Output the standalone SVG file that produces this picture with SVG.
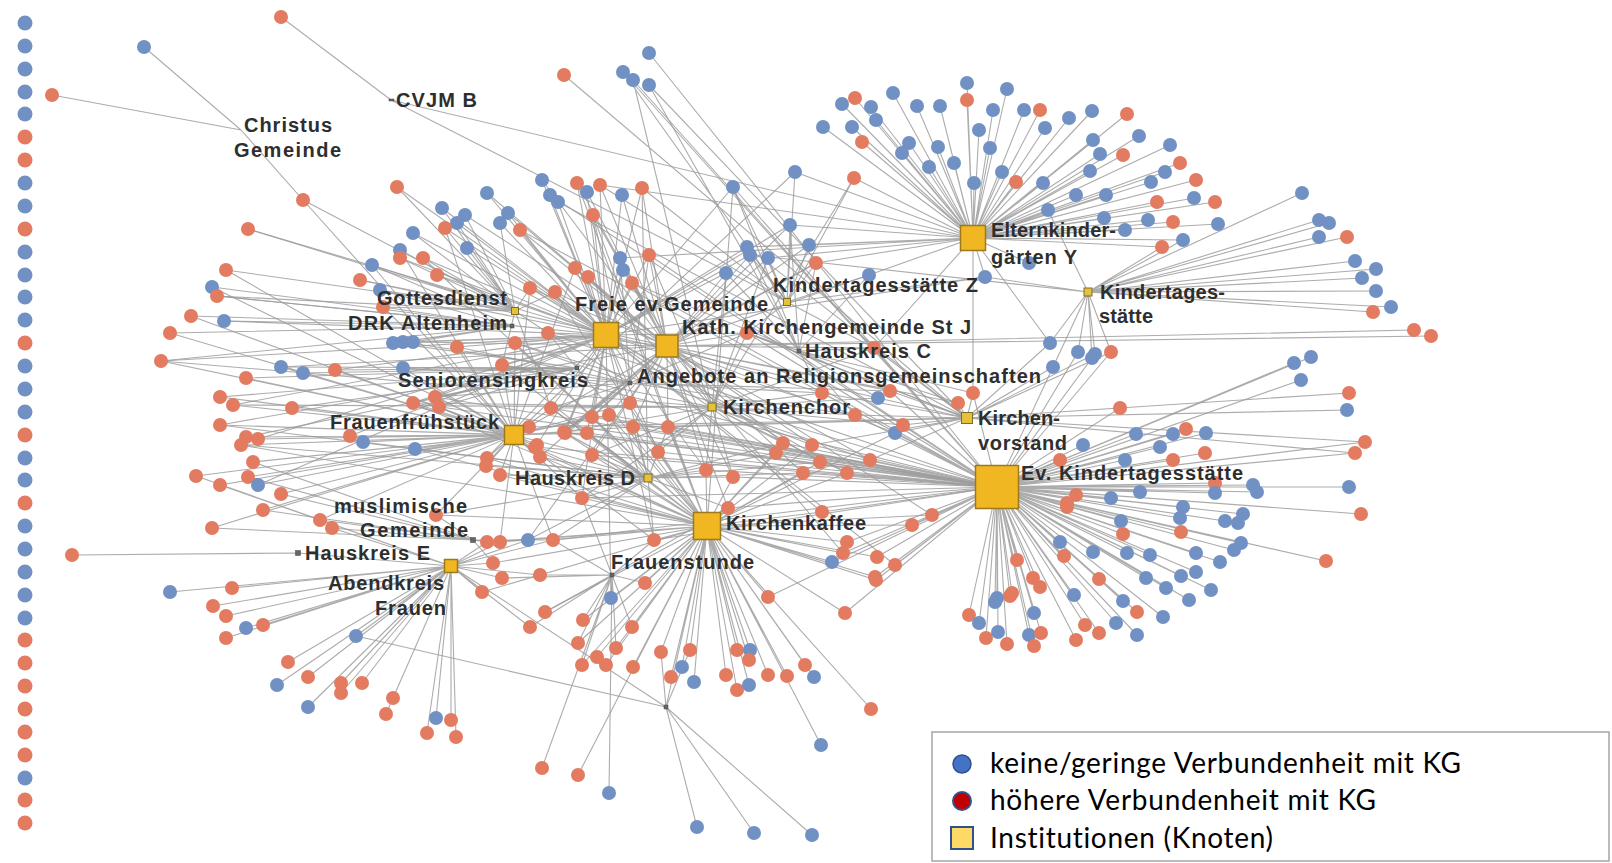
<svg xmlns="http://www.w3.org/2000/svg" width="1612" height="863" viewBox="0 0 1612 863">
<style>
.e{fill:none;stroke:#9a9a9a;stroke-width:1.1;stroke-opacity:.82}
.b{fill:#7191c4}
.r{fill:#e27b5f}
.h{fill:#f1b722;stroke:#9c7a1c;stroke-width:1.5}
.s{fill:#e6c23a;stroke:#7d6d2a;stroke-width:1}
.t{fill:#666;stroke:#444;stroke-width:.5}
.l{font-family:"Liberation Sans",Arial,sans-serif;font-weight:bold;font-size:20px;fill:#2e2e2e}
.g{font-family:Lato,"Open Sans",sans-serif;font-size:28px;fill:#000;font-variant-ligatures:none}
</style>
<rect width="1612" height="863" fill="#fff"/>
<g id="connectors">
<path class="e" d="M391 100L281 17M391 100L787 302M391 100L973 238M241 130L144 47M241 130L52 95M241 130L303 200"/>
<path class="e" d="M515 311L303 200M515 311L397 187M515 311L442 208M515 311L465 215M515 311L457 223M515 311L445 228M515 311L500 223M515 311L413 233M515 311L467 248M515 311L400 250M515 311L400 258M515 311L423 258M515 311L372 265M515 311L437 275M515 311L380 290M515 311L383 307M515 311L248 229M515 311L226 270M515 311L360 280M515 311L217 296M515 311L548 333M515 311L530 288M515 311L555 292M515 311L502 365M515 311L551 408"/>
<path class="e" d="M514 435L303 200M514 435L795 172M514 435L445 228M514 435L575 268M514 435L530 288M514 435L400 250M514 435L372 265M514 435L383 307M514 435L226 270M514 435L212 287M514 435L191 316M514 435L170 333M514 435L161 361M514 435L281 367M514 435L303 373M514 435L335 370M514 435L246 378M514 435L457 347M514 435L515 343M514 435L403 368M514 435L502 365M514 435L220 397M514 435L233 405M514 435L292 408M514 435L413 403M514 435L435 397M514 435L439 407M514 435L220 425M514 435L246 437M514 435L258 439M514 435L241 445M514 435L350 436M514 435L363 442M514 435L415 449M514 435L253 462M514 435L196 476M514 435L248 477M514 435L258 485M514 435L220 485M514 435L281 494M514 435L487 458M514 435L486 466M514 435L500 475M514 435L529 427M514 435L263 510M514 435L320 520M514 435L212 528M514 435L436 515M514 435L500 542M514 435L537 445M514 435L540 457M514 435L565 433M514 435L587 433M514 435L592 455M514 435L582 498M514 435L553 540M514 435L551 408M514 435L630 403M514 435L592 417M514 435L609 415M514 435L564 432M514 435L633 427M514 435L535 447M514 435L654 540M514 435L816 263"/>
<path class="e" d="M606 335L733 187M606 335L542 180M606 335L550 195M606 335L558 202M606 335L577 183M606 335L587 192M606 335L600 185M606 335L622 195M606 335L642 188M606 335L593 215M606 335L620 258M606 335L623 270M606 335L575 268M606 335L588 277M606 335L632 283M606 335L649 255M606 335L790 225M606 335L747 247M606 335L750 255M606 335L726 273M606 335L985 277M606 335L397 187M606 335L487 193M606 335L442 208M606 335L457 223M606 335L445 228M606 335L508 213M606 335L500 223M606 335L520 230M606 335L413 233M606 335L467 248M606 335L400 258M606 335L423 258M606 335L437 275M606 335L530 288M606 335L555 292M606 335L380 290M606 335L248 229M606 335L217 296M606 335L224 321M606 335L161 361M606 335L335 370M606 335L393 343M606 335L403 342M606 335L457 347M606 335L515 343M606 335L548 333M606 335L502 365M606 335L233 405M606 335L413 403M606 335L435 397M606 335L258 439M606 335L350 436M606 335L258 485M606 335L487 458M606 335L537 445M606 335L565 433M606 335L587 433M606 335L582 498M606 335L747 333M606 335L878 398M606 335L855 415M606 335L820 462M606 335L847 473M606 335L551 408M606 335L630 403M606 335L592 417M606 335L564 432M606 335L776 453M606 335L706 470M606 335L822 512M606 335L654 540M606 335L895 565M606 335L611 598M606 335L658 452"/>
<path class="e" d="M667 346L542 180M667 346L577 183M667 346L587 192M667 346L600 185M667 346L622 195M667 346L642 188M667 346L593 215M667 346L620 258M667 346L623 270M667 346L575 268M667 346L588 277M667 346L632 283M667 346L649 255M667 346L790 225M667 346L809 245M667 346L750 255M667 346L768 258M667 346L726 273M667 346L816 263M667 346L869 275M667 346L487 193M667 346L465 215M667 346L508 213M667 346L520 230M667 346L530 288M667 346L555 292M667 346L360 280M667 346L281 367M667 346L413 342M667 346L548 333M667 346L220 425M667 346L540 457M667 346L565 433M667 346L592 455M667 346L528 540M667 346L747 333M667 346L874 348M667 346L822 393M667 346L890 391M667 346L958 403M667 346L895 433M667 346L812 445M667 346L870 460M667 346L803 473M667 346L592 417M667 346L609 415M667 346L564 432M667 346L633 427M667 346L668 427M667 346L783 443M667 346L706 470M667 346L733 477M667 346L728 508M667 346L932 515M667 346L843 553M667 346L1414 330M667 346L1431 336"/>
<path class="e" d="M707 526L733 187M707 526L577 183M707 526L593 215M707 526L423 258M707 526L555 292M707 526L515 343M707 526L548 333M707 526L502 365M707 526L413 403M707 526L439 407M707 526L241 445M707 526L415 449M707 526L487 458M707 526L500 475M707 526L436 515M707 526L487 542M707 526L500 542M707 526L493 563M707 526L565 433M707 526L587 433M707 526L592 455M707 526L582 498M707 526L553 540M707 526L540 575M707 526L895 433M707 526L812 445M707 526L820 462M707 526L847 473M707 526L803 473M707 526L551 408M707 526L630 403M707 526L609 415M707 526L633 427M707 526L668 427M707 526L535 447M707 526L783 443M707 526L776 453M707 526L706 470M707 526L733 477M707 526L728 508M707 526L822 512M707 526L912 525M707 526L932 515M707 526L654 540M707 526L847 542M707 526L843 553M707 526L832 562M707 526L877 557M707 526L875 577M707 526L482 592M707 526L645 583M707 526L611 598M707 526L545 612M707 526L583 620M707 526L632 627M707 526L578 643M707 526L616 648M707 526L597 657M707 526L582 665M707 526L606 665M707 526L633 667M707 526L661 652M707 526L690 650M707 526L682 667M707 526L671 677M707 526L694 682M707 526L737 650M707 526L750 650M707 526L749 660M707 526L726 675M707 526L737 690M707 526L749 685M707 526L768 675M707 526L787 676M707 526L805 665M707 526L814 677M707 526L768 597M707 526L845 613M707 526L876 580M707 526L871 709M707 526L821 745M707 526L578 775M707 526L658 452M707 526L666 707"/>
<path class="e" d="M997 487L623 72M997 487L633 80M997 487L649 53M997 487L733 187M997 487L550 195M997 487L520 230M997 487L632 283M997 487L649 255M997 487L747 333M997 487L874 348M997 487L822 393M997 487L890 391M997 487L973 393M997 487L855 415M997 487L895 433M997 487L903 425M997 487L812 445M997 487L820 462M997 487L870 460M997 487L847 473M997 487L803 473M997 487L633 427M997 487L668 427M997 487L783 443M997 487L776 453M997 487L733 477M997 487L728 508M997 487L822 512M997 487L912 525M997 487L932 515M997 487L847 542M997 487L843 553M997 487L832 562M997 487L877 557M997 487L895 565M997 487L875 577M997 487L768 597M997 487L845 613M997 487L876 580M997 487L1053 367M997 487L1078 352M997 487L1092 358M997 487L1095 354M997 487L1111 352M997 487L1120 408M997 487L1294 363M997 487L1311 357M997 487L1301 380M997 487L658 452"/>
<path class="e" d="M997 487L1136 434M997 487L1173 434M997 487L1186 429M997 487L1206 433M997 487L1083 445M997 487L1160 447M997 487L1365 442M997 487L1355 453M997 487L1060 460M997 487L1125 460M997 487L1173 460M997 487L1205 453M997 487L1215 483M997 487L1215 493M997 487L1253 485M997 487L1257 492M997 487L1349 487M997 487L1361 514M997 487L1076 495M997 487L1067 507M997 487L1111 498M997 487L1140 492M997 487L1183 507M997 487L1180 518M997 487L1243 514M997 487L1225 521M997 487L1238 523M997 487L1121 521M997 487L1123 534M997 487L1181 532M997 487L1060 542M997 487L1093 552M997 487L1127 553M997 487L1150 555M997 487L1196 553M997 487L1241 543M997 487L1234 550M997 487L1220 562M997 487L1064 556M997 487L1196 572M997 487L1326 561M997 487L1099 579M997 487L1146 578M997 487L1181 576M997 487L1166 588M997 487L1211 590M997 487L1074 595M997 487L1123 601M997 487L1189 600M997 487L1137 612M997 487L1163 617M997 487L1116 623M997 487L1085 625M997 487L1099 633M997 487L1137 635M997 487L1076 640M997 487L969 615M997 487L979 623M997 487L995 602M997 487L1010 596M997 487L986 638M997 487L998 632M997 487L1007 644M997 487L1034 613M997 487L1029 635M997 487L1041 633M997 487L1034 646M997 487L1033 578M997 487L1040 587M997 487L1017 560M997 487L997 598M997 487L1012 593M997 487L1067 503"/>
<path class="e" d="M973 238L967 83M973 238L1007 89M973 238L893 93M973 238L855 98M973 238L842 104M973 238L871 107M973 238L917 106M973 238L940 106M973 238L967 100M973 238L993 110M973 238L1024 110M973 238L1040 110M973 238L1069 118M973 238L823 127M973 238L852 127M973 238L876 120M973 238L862 142M973 238L909 143M973 238L902 153M973 238L938 147M973 238L979 130M973 238L990 148M973 238L1045 128M973 238L929 167M973 238L954 163M973 238L1002 172M973 238L1016 182M973 238L1043 183M973 238L974 183M973 238L1048 210M973 238L1092 111M973 238L1127 114M973 238L1093 140M973 238L1139 136M973 238L1100 154M973 238L1123 155M973 238L1170 145M973 238L1180 163M973 238L1090 171M973 238L1165 172M973 238L1151 182M973 238L1196 180M973 238L1076 195M973 238L1106 195M973 238L1157 202M973 238L1194 198M973 238L1215 202M973 238L1104 218M973 238L1148 220M973 238L1173 222M973 238L1218 224M973 238L1125 230M973 238L1162 247M973 238L1183 240M973 238L1029 263M973 238L795 172M973 238L854 178M973 238L790 225M973 238L809 245M973 238L747 247M973 238L768 258M973 238L816 263M973 238L869 275M973 238L985 277M973 238L600 185M973 238L620 258M973 238L874 348M973 238L973 393M973 238L1050 343"/>
<path class="e" d="M1088 292L1302 193M1088 292L1319 220M1088 292L1329 223M1088 292L1319 237M1088 292L1347 237M1088 292L1355 261M1088 292L1376 269M1088 292L1362 278M1088 292L1376 291M1088 292L1391 307M1088 292L1373 312M1088 292L1078 352M1088 292L1092 358M1088 292L1095 354M1088 292L1111 352M1088 292L750 255M1088 292L985 277M1088 292L1053 367M1088 292L1050 343M1088 292L1162 247M1088 292L1183 240M1088 292L1048 210"/>
<path class="e" d="M967 418L564 75M967 418L649 85M967 418L558 202M967 418L747 247M967 418L747 333M967 418L878 398M967 418L890 391M967 418L973 393M967 418L958 403M967 418L529 427M967 418L1053 367M967 418L1050 343M967 418L1349 393M967 418L1347 410M967 418L1120 408M712 407L633 80M712 407L854 178M712 407L588 277M712 407L822 393M712 407L878 398M712 407L855 415M712 407L903 425M648 478L642 188M648 478L363 442M648 478L486 466M648 478L528 540M648 478L540 457M787 302L623 72M799 351L649 85"/>
<path class="e" d="M577 368L303 373M577 368L246 378M577 368L403 368M577 368L220 397M577 368L292 408M577 368L246 437M512 326L212 287M512 326L191 316M512 326L224 321M512 326L170 333M512 326L393 343M512 326L403 342M512 326L413 342M473 540L253 462M473 540L248 477M473 540L281 494M473 540L263 510M473 540L320 520M473 540L332 528M473 540L212 528M473 540L436 515M473 540L487 542"/>
<path class="e" d="M451 566L196 476M451 566L220 485M451 566L332 528M451 566L487 542M451 566L500 542M451 566L528 540M451 566L493 563M451 566L502 578M451 566L553 540M451 566L540 575M451 566L530 627M451 566L170 592M451 566L232 588M451 566L213 606M451 566L226 616M451 566L246 628M451 566L263 625M451 566L226 638M451 566L356 636M451 566L288 662M451 566L308 677M451 566L277 685M451 566L341 683M451 566L341 693M451 566L362 683M451 566L308 707M451 566L393 698M451 566L386 714M451 566L436 718M451 566L451 720M451 566L427 733M451 566L456 737M451 566L482 592M451 566L298 553M451 566L666 707M298 553L72 555"/>
<path class="e" d="M612 575L502 578M612 575L540 575M612 575L645 583M612 575L611 598M612 575L545 612M612 575L583 620M612 575L530 627M612 575L632 627M612 575L578 643M612 575L616 648M612 575L582 665M612 575L542 768M612 575L609 793M666 707L697 827M666 707L754 833M666 707L812 835M666 707L661 652M666 707L690 650M666 707L356 636"/>
<path class="e" d="M648 478L551 408M648 478L630 403M648 478L592 417M648 478L609 415M648 478L564 432M648 478L633 427M648 478L668 427M648 478L535 447M648 478L565 433M648 478L587 433M648 478L592 455M648 478L582 498M648 478L553 540M648 478L654 540M648 478L706 470M648 478L733 477M648 478L728 508M648 478L783 443M648 478L776 453M648 478L803 473M648 478L820 462M648 478L658 452M648 478L487 458M648 478L500 475M648 478L436 515M648 478L415 449M648 478L241 445M648 478L220 425"/>
<path class="e" d="M712 407L551 408M712 407L564 432M712 407L592 455M712 407L582 498M712 407L658 452M712 407L706 470M712 407L733 477M712 407L783 443M712 407L812 445M712 407L847 473M712 407L870 460M712 407L747 333M712 407L874 348M712 407L632 283M712 407L649 255M712 407L726 273M712 407L768 258M712 407L502 365M712 407L413 403M712 407L233 405M712 407L161 361"/>
<path class="e" d="M630 383L548 333M630 383L515 343M630 383L502 365M630 383L457 347M630 383L403 368M630 383L435 397M630 383L551 408M630 383L592 417M630 383L564 432M630 383L747 333M630 383L822 393M630 383L855 415M630 383L890 391M630 383L649 255M630 383L620 258M630 383L593 215"/>
<path class="e" d="M799 351L747 333M799 351L874 348M799 351L822 393M799 351L878 398M799 351L890 391M799 351L958 403M799 351L855 415M799 351L973 393M799 351L632 283M799 351L726 273M799 351L790 225M799 351L816 263M799 351L869 275M799 351L747 247M799 351L733 187"/>
<path class="e" d="M787 302L733 187M787 302L795 172M787 302L854 178M787 302L747 247M787 302L750 255M787 302L768 258M787 302L790 225M787 302L809 245M787 302L816 263M787 302L869 275M787 302L985 277M787 302L747 333M787 302L874 348M787 302L642 188M787 302L600 185"/>
<path class="e" d="M997 487L515 343M997 487L548 333M997 487L551 408M997 487L564 432M997 487L592 417M997 487L609 415M997 487L565 433M997 487L587 433M997 487L592 455M997 487L535 447M997 487L582 498M997 487L553 540M997 487L654 540M997 487L706 470M997 487L502 365M997 487L413 403M997 487L435 397"/>
<path class="e" d="M967 418L822 393M967 418L855 415M967 418L903 425M967 418L895 433M967 418L812 445M967 418L870 460M967 418L633 427M967 418L668 427M967 418L747 333M967 418L874 348M967 418L1111 352M967 418L1095 354M967 418L1365 442M967 418L1355 453"/>
<path class="e" d="M473 540L500 542M473 540L528 540M473 540L553 540M473 540L493 563M612 575L654 540M612 575L582 498M612 575L553 540M612 575L728 508M577 368L413 403M577 368L435 397M577 368L439 407M577 368L335 370M577 368L281 367M577 368L403 342M577 368L393 343M512 326L383 307M512 326L380 290M512 326L372 265M512 326L161 361M512 326L217 296"/>
</g>
<g id="persons">
<g id="isolates">
<circle class="b" cx="25" cy="23" r="7.5"/><circle class="b" cx="25" cy="46" r="7.5"/><circle class="b" cx="25" cy="69" r="7.5"/><circle class="b" cx="25" cy="92" r="7.5"/><circle class="b" cx="25" cy="114" r="7.5"/><circle class="r" cx="25" cy="137" r="7.5"/><circle class="r" cx="25" cy="160" r="7.5"/><circle class="b" cx="25" cy="183" r="7.5"/><circle class="b" cx="25" cy="206" r="7.5"/><circle class="r" cx="25" cy="229" r="7.5"/><circle class="b" cx="25" cy="252" r="7.5"/><circle class="b" cx="25" cy="275" r="7.5"/><circle class="b" cx="25" cy="297" r="7.5"/><circle class="b" cx="25" cy="320" r="7.5"/><circle class="r" cx="25" cy="343" r="7.5"/><circle class="b" cx="25" cy="366" r="7.5"/><circle class="b" cx="25" cy="389" r="7.5"/><circle class="b" cx="25" cy="412" r="7.5"/><circle class="r" cx="25" cy="435" r="7.5"/><circle class="b" cx="25" cy="458" r="7.5"/><circle class="b" cx="25" cy="480" r="7.5"/><circle class="r" cx="25" cy="503" r="7.5"/><circle class="b" cx="25" cy="526" r="7.5"/><circle class="b" cx="25" cy="549" r="7.5"/><circle class="b" cx="25" cy="572" r="7.5"/><circle class="b" cx="25" cy="595" r="7.5"/><circle class="b" cx="25" cy="618" r="7.5"/><circle class="r" cx="25" cy="640" r="7.5"/><circle class="r" cx="25" cy="663" r="7.5"/><circle class="r" cx="25" cy="686" r="7.5"/><circle class="r" cx="25" cy="709" r="7.5"/><circle class="r" cx="25" cy="732" r="7.5"/><circle class="r" cx="25" cy="755" r="7.5"/><circle class="b" cx="25" cy="778" r="7.5"/><circle class="r" cx="25" cy="800" r="7.5"/><circle class="r" cx="25" cy="823" r="7.5"/>
</g>
<g id="cluster-top">
<circle class="r" cx="281" cy="17" r="7"/><circle class="b" cx="144" cy="47" r="7"/><circle class="r" cx="52" cy="95" r="7"/><circle class="r" cx="303" cy="200" r="7"/>
<circle class="r" cx="564" cy="75" r="7"/><circle class="b" cx="623" cy="72" r="7"/><circle class="b" cx="633" cy="80" r="7"/><circle class="b" cx="649" cy="85" r="7"/><circle class="b" cx="649" cy="53" r="7"/><circle class="b" cx="733" cy="187" r="7"/><circle class="b" cx="795" cy="172" r="7"/><circle class="r" cx="854" cy="178" r="7"/>
<circle class="b" cx="542" cy="180" r="7"/><circle class="b" cx="550" cy="195" r="7"/><circle class="b" cx="558" cy="202" r="7"/><circle class="r" cx="577" cy="183" r="7"/><circle class="b" cx="587" cy="192" r="7"/><circle class="r" cx="600" cy="185" r="7"/><circle class="b" cx="622" cy="195" r="7"/><circle class="r" cx="642" cy="188" r="7"/><circle class="r" cx="593" cy="215" r="7"/><circle class="b" cx="620" cy="258" r="7"/><circle class="b" cx="623" cy="270" r="7"/><circle class="r" cx="575" cy="268" r="7"/><circle class="r" cx="588" cy="277" r="7"/><circle class="r" cx="632" cy="283" r="7"/><circle class="r" cx="649" cy="255" r="7"/><circle class="b" cx="790" cy="225" r="7"/><circle class="b" cx="809" cy="245" r="7"/><circle class="b" cx="747" cy="247" r="7"/><circle class="b" cx="750" cy="255" r="7"/><circle class="b" cx="768" cy="258" r="7"/><circle class="b" cx="726" cy="273" r="7"/><circle class="r" cx="816" cy="263" r="7"/><circle class="b" cx="869" cy="275" r="7"/><circle class="b" cx="985" cy="277" r="7"/>
</g>
<g id="cluster-left">
<circle class="r" cx="397" cy="187" r="7"/><circle class="b" cx="487" cy="193" r="7"/><circle class="b" cx="442" cy="208" r="7"/><circle class="b" cx="465" cy="215" r="7"/><circle class="b" cx="457" cy="223" r="7"/><circle class="r" cx="445" cy="228" r="7"/><circle class="b" cx="508" cy="213" r="7"/><circle class="b" cx="500" cy="223" r="7"/><circle class="r" cx="520" cy="230" r="7"/><circle class="b" cx="413" cy="233" r="7"/><circle class="b" cx="467" cy="248" r="7"/><circle class="b" cx="400" cy="250" r="7"/><circle class="r" cx="400" cy="258" r="7"/><circle class="r" cx="423" cy="258" r="7"/><circle class="b" cx="372" cy="265" r="7"/><circle class="r" cx="437" cy="275" r="7"/><circle class="r" cx="530" cy="288" r="7"/><circle class="r" cx="555" cy="292" r="7"/><circle class="b" cx="380" cy="290" r="7"/><circle class="r" cx="383" cy="307" r="7"/><circle class="r" cx="248" cy="229" r="7"/><circle class="r" cx="226" cy="270" r="7"/><circle class="b" cx="212" cy="287" r="7"/><circle class="r" cx="360" cy="280" r="7"/>
<circle class="r" cx="217" cy="296" r="7"/><circle class="r" cx="191" cy="316" r="7"/><circle class="b" cx="224" cy="321" r="7"/><circle class="r" cx="170" cy="333" r="7"/><circle class="r" cx="161" cy="361" r="7"/><circle class="b" cx="281" cy="367" r="7"/><circle class="b" cx="303" cy="373" r="7"/><circle class="r" cx="335" cy="370" r="7"/><circle class="r" cx="246" cy="378" r="7"/><circle class="b" cx="393" cy="343" r="7"/><circle class="b" cx="403" cy="342" r="7"/><circle class="b" cx="413" cy="342" r="7"/><circle class="r" cx="457" cy="347" r="7"/><circle class="r" cx="515" cy="343" r="7"/><circle class="r" cx="548" cy="333" r="7"/><circle class="b" cx="403" cy="368" r="7"/><circle class="r" cx="502" cy="365" r="7"/><circle class="r" cx="220" cy="397" r="7"/><circle class="r" cx="233" cy="405" r="7"/><circle class="r" cx="292" cy="408" r="7"/><circle class="r" cx="413" cy="403" r="7"/><circle class="r" cx="435" cy="397" r="7"/><circle class="r" cx="439" cy="407" r="7"/><circle class="r" cx="220" cy="425" r="7"/><circle class="r" cx="246" cy="437" r="7"/><circle class="r" cx="258" cy="439" r="7"/><circle class="r" cx="241" cy="445" r="7"/><circle class="r" cx="350" cy="436" r="7"/><circle class="b" cx="363" cy="442" r="7"/><circle class="b" cx="415" cy="449" r="7"/><circle class="r" cx="253" cy="462" r="7"/><circle class="r" cx="196" cy="476" r="7"/><circle class="r" cx="248" cy="477" r="7"/><circle class="b" cx="258" cy="485" r="7"/><circle class="r" cx="220" cy="485" r="7"/><circle class="r" cx="281" cy="494" r="7"/><circle class="r" cx="487" cy="458" r="7"/><circle class="r" cx="486" cy="466" r="7"/><circle class="r" cx="500" cy="475" r="7"/><circle class="r" cx="529" cy="427" r="7"/><circle class="r" cx="263" cy="510" r="7"/><circle class="r" cx="320" cy="520" r="7"/><circle class="r" cx="332" cy="528" r="7"/><circle class="r" cx="212" cy="528" r="7"/><circle class="r" cx="436" cy="515" r="7"/><circle class="r" cx="72" cy="555" r="7"/><circle class="r" cx="487" cy="542" r="7"/><circle class="r" cx="500" cy="542" r="7"/><circle class="b" cx="528" cy="540" r="7"/><circle class="r" cx="493" cy="563" r="7"/><circle class="r" cx="502" cy="578" r="7"/><circle class="r" cx="537" cy="445" r="7"/><circle class="r" cx="540" cy="457" r="7"/><circle class="r" cx="565" cy="433" r="7"/><circle class="r" cx="587" cy="433" r="7"/><circle class="r" cx="592" cy="455" r="7"/><circle class="r" cx="582" cy="498" r="7"/><circle class="r" cx="553" cy="540" r="7"/><circle class="r" cx="540" cy="575" r="7"/>
</g>
<g id="cluster-abendkreis">
<circle class="b" cx="170" cy="592" r="7"/><circle class="r" cx="232" cy="588" r="7"/><circle class="r" cx="213" cy="606" r="7"/><circle class="r" cx="226" cy="616" r="7"/><circle class="b" cx="246" cy="628" r="7"/><circle class="r" cx="263" cy="625" r="7"/><circle class="r" cx="226" cy="638" r="7"/><circle class="b" cx="356" cy="636" r="7"/><circle class="r" cx="288" cy="662" r="7"/><circle class="r" cx="308" cy="677" r="7"/><circle class="b" cx="277" cy="685" r="7"/><circle class="r" cx="341" cy="683" r="7"/><circle class="r" cx="341" cy="693" r="7"/><circle class="r" cx="362" cy="683" r="7"/><circle class="b" cx="308" cy="707" r="7"/><circle class="r" cx="393" cy="698" r="7"/><circle class="r" cx="386" cy="714" r="7"/><circle class="b" cx="436" cy="718" r="7"/><circle class="r" cx="451" cy="720" r="7"/><circle class="r" cx="427" cy="733" r="7"/><circle class="r" cx="456" cy="737" r="7"/><circle class="r" cx="482" cy="592" r="7"/>
</g>
<g id="cluster-center">
<circle class="r" cx="747" cy="333" r="7"/><circle class="r" cx="874" cy="348" r="7"/><circle class="r" cx="822" cy="393" r="7"/><circle class="b" cx="878" cy="398" r="7"/><circle class="r" cx="890" cy="391" r="7"/><circle class="r" cx="973" cy="393" r="7"/><circle class="r" cx="958" cy="403" r="7"/><circle class="r" cx="855" cy="415" r="7"/><circle class="b" cx="895" cy="433" r="7"/><circle class="r" cx="903" cy="425" r="7"/><circle class="r" cx="812" cy="445" r="7"/><circle class="r" cx="820" cy="462" r="7"/><circle class="r" cx="870" cy="460" r="7"/><circle class="r" cx="847" cy="473" r="7"/><circle class="r" cx="803" cy="473" r="7"/><circle class="r" cx="551" cy="408" r="7"/><circle class="r" cx="630" cy="403" r="7"/><circle class="r" cx="592" cy="417" r="7"/><circle class="r" cx="609" cy="415" r="7"/><circle class="r" cx="564" cy="432" r="7"/><circle class="r" cx="633" cy="427" r="7"/><circle class="r" cx="668" cy="427" r="7"/><circle class="r" cx="535" cy="447" r="7"/><circle class="r" cx="783" cy="443" r="7"/><circle class="r" cx="776" cy="453" r="7"/><circle class="r" cx="706" cy="470" r="7"/><circle class="r" cx="733" cy="477" r="7"/><circle class="r" cx="728" cy="508" r="7"/><circle class="r" cx="822" cy="512" r="7"/><circle class="r" cx="912" cy="525" r="7"/><circle class="r" cx="932" cy="515" r="7"/><circle class="r" cx="654" cy="540" r="7"/><circle class="r" cx="847" cy="542" r="7"/><circle class="r" cx="843" cy="553" r="7"/><circle class="b" cx="832" cy="562" r="7"/><circle class="r" cx="877" cy="557" r="7"/><circle class="r" cx="895" cy="565" r="7"/><circle class="r" cx="875" cy="577" r="7"/><circle class="r" cx="658" cy="452" r="7"/>
</g>
<g id="cluster-kaffee">
<circle class="r" cx="645" cy="583" r="7"/><circle class="b" cx="611" cy="598" r="7"/><circle class="r" cx="545" cy="612" r="7"/><circle class="r" cx="583" cy="620" r="7"/><circle class="r" cx="530" cy="627" r="7"/><circle class="r" cx="632" cy="627" r="7"/><circle class="r" cx="578" cy="643" r="7"/><circle class="r" cx="616" cy="648" r="7"/><circle class="r" cx="597" cy="657" r="7"/><circle class="r" cx="582" cy="665" r="7"/><circle class="r" cx="606" cy="665" r="7"/><circle class="r" cx="633" cy="667" r="7"/><circle class="r" cx="661" cy="652" r="7"/><circle class="r" cx="690" cy="650" r="7"/><circle class="b" cx="682" cy="667" r="7"/><circle class="r" cx="671" cy="677" r="7"/><circle class="b" cx="694" cy="682" r="7"/><circle class="r" cx="737" cy="650" r="7"/><circle class="b" cx="750" cy="650" r="7"/><circle class="r" cx="749" cy="660" r="7"/><circle class="r" cx="726" cy="675" r="7"/><circle class="r" cx="737" cy="690" r="7"/><circle class="b" cx="749" cy="685" r="7"/><circle class="r" cx="768" cy="675" r="7"/><circle class="r" cx="787" cy="676" r="7"/><circle class="r" cx="805" cy="665" r="7"/><circle class="b" cx="814" cy="677" r="7"/><circle class="r" cx="768" cy="597" r="7"/><circle class="r" cx="845" cy="613" r="7"/><circle class="r" cx="876" cy="580" r="7"/><circle class="r" cx="871" cy="709" r="7"/><circle class="b" cx="821" cy="745" r="7"/><circle class="r" cx="542" cy="768" r="7"/><circle class="r" cx="578" cy="775" r="7"/><circle class="b" cx="609" cy="793" r="7"/><circle class="b" cx="697" cy="827" r="7"/><circle class="b" cx="754" cy="833" r="7"/><circle class="b" cx="812" cy="835" r="7"/>
</g>
<g id="cluster-eltern">
<circle class="b" cx="967" cy="83" r="7"/><circle class="b" cx="1007" cy="89" r="7"/><circle class="b" cx="893" cy="93" r="7"/><circle class="b" cx="842" cy="104" r="7"/><circle class="r" cx="855" cy="98" r="7"/><circle class="b" cx="871" cy="107" r="7"/><circle class="b" cx="917" cy="106" r="7"/><circle class="b" cx="940" cy="106" r="7"/><circle class="r" cx="967" cy="100" r="7"/><circle class="b" cx="993" cy="110" r="7"/><circle class="b" cx="1024" cy="110" r="7"/><circle class="r" cx="1040" cy="110" r="7"/><circle class="b" cx="1069" cy="118" r="7"/><circle class="b" cx="823" cy="127" r="7"/><circle class="b" cx="852" cy="127" r="7"/><circle class="b" cx="876" cy="120" r="7"/><circle class="r" cx="862" cy="142" r="7"/><circle class="b" cx="909" cy="143" r="7"/><circle class="b" cx="902" cy="153" r="7"/><circle class="b" cx="938" cy="147" r="7"/><circle class="b" cx="979" cy="130" r="7"/><circle class="b" cx="990" cy="148" r="7"/><circle class="b" cx="1045" cy="128" r="7"/><circle class="b" cx="929" cy="167" r="7"/><circle class="b" cx="954" cy="163" r="7"/><circle class="b" cx="1002" cy="172" r="7"/><circle class="r" cx="1016" cy="182" r="7"/><circle class="b" cx="1043" cy="183" r="7"/><circle class="b" cx="974" cy="183" r="7"/><circle class="b" cx="1048" cy="210" r="7"/><circle class="b" cx="1092" cy="111" r="7"/><circle class="r" cx="1127" cy="114" r="7"/><circle class="b" cx="1093" cy="140" r="7"/><circle class="b" cx="1139" cy="136" r="7"/><circle class="b" cx="1100" cy="154" r="7"/><circle class="r" cx="1123" cy="155" r="7"/><circle class="b" cx="1170" cy="145" r="7"/><circle class="r" cx="1180" cy="163" r="7"/><circle class="b" cx="1090" cy="171" r="7"/><circle class="b" cx="1165" cy="172" r="7"/><circle class="b" cx="1151" cy="182" r="7"/><circle class="r" cx="1196" cy="180" r="7"/><circle class="b" cx="1076" cy="195" r="7"/><circle class="b" cx="1106" cy="195" r="7"/><circle class="r" cx="1157" cy="202" r="7"/><circle class="b" cx="1194" cy="198" r="7"/><circle class="r" cx="1215" cy="202" r="7"/><circle class="b" cx="1104" cy="218" r="7"/><circle class="b" cx="1148" cy="220" r="7"/><circle class="r" cx="1173" cy="222" r="7"/><circle class="b" cx="1218" cy="224" r="7"/><circle class="b" cx="1125" cy="230" r="7"/><circle class="r" cx="1162" cy="247" r="7"/><circle class="b" cx="1183" cy="240" r="7"/><circle class="b" cx="1029" cy="263" r="7"/>
</g>
<g id="cluster-kita">
<circle class="b" cx="1302" cy="193" r="7"/><circle class="b" cx="1319" cy="220" r="7"/><circle class="b" cx="1329" cy="223" r="7"/><circle class="b" cx="1319" cy="237" r="7"/><circle class="r" cx="1347" cy="237" r="7"/><circle class="b" cx="1355" cy="261" r="7"/><circle class="b" cx="1376" cy="269" r="7"/><circle class="b" cx="1362" cy="278" r="7"/><circle class="b" cx="1376" cy="291" r="7"/><circle class="b" cx="1391" cy="307" r="7"/><circle class="r" cx="1373" cy="312" r="7"/><circle class="r" cx="1414" cy="330" r="7"/><circle class="r" cx="1431" cy="336" r="7"/><circle class="b" cx="1078" cy="352" r="7"/><circle class="b" cx="1092" cy="358" r="7"/><circle class="b" cx="1095" cy="354" r="7"/><circle class="r" cx="1111" cy="352" r="7"/><circle class="b" cx="1294" cy="363" r="7"/><circle class="b" cx="1311" cy="357" r="7"/><circle class="b" cx="1301" cy="380" r="7"/><circle class="r" cx="1349" cy="393" r="7"/><circle class="b" cx="1347" cy="410" r="7"/><circle class="r" cx="1120" cy="408" r="7"/><circle class="b" cx="1053" cy="367" r="7"/><circle class="b" cx="1050" cy="343" r="7"/>
<circle class="b" cx="1136" cy="434" r="7"/><circle class="b" cx="1173" cy="434" r="7"/><circle class="r" cx="1186" cy="429" r="7"/><circle class="b" cx="1206" cy="433" r="7"/><circle class="b" cx="1083" cy="445" r="7"/><circle class="b" cx="1160" cy="447" r="7"/><circle class="r" cx="1365" cy="442" r="7"/><circle class="r" cx="1355" cy="453" r="7"/><circle class="r" cx="1060" cy="460" r="7"/><circle class="b" cx="1125" cy="460" r="7"/><circle class="r" cx="1173" cy="460" r="7"/><circle class="r" cx="1205" cy="453" r="7"/><circle class="r" cx="1215" cy="483" r="7"/><circle class="b" cx="1215" cy="493" r="7"/><circle class="b" cx="1253" cy="485" r="7"/><circle class="b" cx="1257" cy="492" r="7"/><circle class="b" cx="1349" cy="487" r="7"/><circle class="r" cx="1361" cy="514" r="7"/><circle class="r" cx="1076" cy="495" r="7"/><circle class="r" cx="1067" cy="507" r="7"/><circle class="b" cx="1111" cy="498" r="7"/><circle class="b" cx="1140" cy="492" r="7"/><circle class="b" cx="1183" cy="507" r="7"/><circle class="b" cx="1180" cy="518" r="7"/><circle class="b" cx="1243" cy="514" r="7"/><circle class="b" cx="1225" cy="521" r="7"/><circle class="b" cx="1238" cy="523" r="7"/><circle class="b" cx="1121" cy="521" r="7"/><circle class="r" cx="1123" cy="534" r="7"/><circle class="r" cx="1181" cy="532" r="7"/><circle class="b" cx="1060" cy="542" r="7"/><circle class="b" cx="1093" cy="552" r="7"/><circle class="b" cx="1127" cy="553" r="7"/><circle class="b" cx="1150" cy="555" r="7"/><circle class="b" cx="1196" cy="553" r="7"/><circle class="b" cx="1241" cy="543" r="7"/><circle class="b" cx="1234" cy="550" r="7"/><circle class="b" cx="1220" cy="562" r="7"/><circle class="r" cx="1064" cy="556" r="7"/><circle class="b" cx="1196" cy="572" r="7"/><circle class="r" cx="1326" cy="561" r="7"/><circle class="r" cx="1099" cy="579" r="7"/><circle class="b" cx="1146" cy="578" r="7"/><circle class="b" cx="1181" cy="576" r="7"/><circle class="b" cx="1166" cy="588" r="7"/><circle class="b" cx="1211" cy="590" r="7"/><circle class="b" cx="1074" cy="595" r="7"/><circle class="b" cx="1123" cy="601" r="7"/><circle class="b" cx="1189" cy="600" r="7"/><circle class="r" cx="1137" cy="612" r="7"/><circle class="b" cx="1163" cy="617" r="7"/><circle class="b" cx="1116" cy="623" r="7"/><circle class="r" cx="1085" cy="625" r="7"/><circle class="r" cx="1099" cy="633" r="7"/><circle class="b" cx="1137" cy="635" r="7"/><circle class="r" cx="1076" cy="640" r="7"/><circle class="r" cx="969" cy="615" r="7"/><circle class="b" cx="979" cy="623" r="7"/><circle class="b" cx="995" cy="602" r="7"/><circle class="r" cx="1010" cy="596" r="7"/><circle class="r" cx="986" cy="638" r="7"/><circle class="b" cx="998" cy="632" r="7"/><circle class="r" cx="1007" cy="644" r="7"/><circle class="b" cx="1034" cy="613" r="7"/><circle class="b" cx="1029" cy="635" r="7"/><circle class="r" cx="1041" cy="633" r="7"/><circle class="r" cx="1034" cy="646" r="7"/><circle class="r" cx="1033" cy="578" r="7"/><circle class="r" cx="1040" cy="587" r="7"/><circle class="r" cx="1017" cy="560" r="7"/><circle class="b" cx="997" cy="598" r="7"/><circle class="r" cx="1012" cy="593" r="7"/><circle class="r" cx="1067" cy="503" r="7"/>
</g>
</g>
<g id="institutions">
<g id="christus-gemeinde"><text class="l" x="244" y="132" textLength="88">Christus</text><text class="l" x="234" y="157" textLength="107">Gemeinde</text></g>
<g id="cvjm-b"><rect class="t" x="389" y="99" width="5" height="2"/><text class="l" x="396" y="107" textLength="81">CVJM B</text></g>
<g id="gottesdienst"><rect class="s" x="511.5" y="307.5" width="7" height="7"/><text class="l" x="377" y="305" textLength="130">Gottesdienst</text></g>
<g id="drk-altenheim"><rect class="t" x="510" y="324" width="4" height="4"/><text class="l" x="348" y="330" textLength="159">DRK Altenheim</text></g>
<g id="freie-ev-gemeinde"><rect class="h" x="593.5" y="322.5" width="25" height="25"/><text class="l" x="575" y="311" textLength="193">Freie ev.Gemeinde</text></g>
<g id="kindertagesstaette-z"><rect class="s" x="783.5" y="298.5" width="7" height="7"/><text class="l" x="773" y="292" textLength="205">Kindertagesstätte Z</text></g>
<g id="kath-kirchengemeinde"><rect class="h" x="656" y="335" width="22" height="22"/><text class="l" x="682" y="334" textLength="289">Kath. Kirchengemeinde St J</text></g>
<g id="hauskreis-c"><rect class="t" x="797" y="349" width="4" height="4"/><text class="l" x="805" y="358" textLength="126">Hauskreis C</text></g>
<g id="angebote"><rect class="t" x="628" y="381" width="4" height="4"/><text class="l" x="637" y="383" textLength="404">Angebote an Religionsgemeinschaften</text></g>
<g id="seniorensingkreis"><rect class="t" x="575" y="366" width="4" height="4"/><text class="l" x="398" y="387" textLength="190">Seniorensingkreis</text></g>
<g id="kirchenchor"><rect class="s" x="708" y="403" width="8" height="8"/><text class="l" x="723" y="414" textLength="127">Kirchenchor</text></g>
<g id="frauenfruehstueck"><rect class="h" x="504.5" y="425.5" width="19" height="19"/><text class="l" x="330" y="429" textLength="169">Frauenfrühstück</text></g>
<g id="kirchenvorstand"><rect class="s" x="961.5" y="412.5" width="11" height="11"/><text class="l" x="978" y="425" textLength="82">Kirchen-</text><text class="l" x="978" y="450" textLength="89">vorstand</text></g>
<g id="hauskreis-d"><rect class="s" x="644" y="474" width="8" height="8"/><text class="l" x="515" y="485" textLength="120">Hauskreis D</text></g>
<g id="ev-kindertagesstaette"><rect class="h" x="975.5" y="465.5" width="43" height="43"/><text class="l" x="1021" y="480" textLength="222">Ev. Kindertagesstätte</text></g>
<g id="elternkindergaerten-y"><rect class="h" x="960.5" y="225.5" width="25" height="25"/><text class="l" x="991" y="237" textLength="125">Elternkinder-</text><text class="l" x="991" y="264" textLength="86">gärten Y</text></g>
<g id="kindertagesstaette"><rect class="s" x="1084" y="288" width="8" height="8"/><text class="l" x="1100" y="299" textLength="125">Kindertages-</text><text class="l" x="1099" y="323" textLength="54">stätte</text></g>
<g id="kirchenkaffee"><rect class="h" x="693.5" y="512.5" width="27" height="27"/><text class="l" x="726" y="530" textLength="140">Kirchenkaffee</text></g>
<g id="muslimische-gemeinde"><rect class="t" x="470.5" y="537.5" width="5" height="5"/><text class="l" x="334" y="513" textLength="133">muslimische</text><text class="l" x="360" y="537" textLength="108">Gemeinde</text></g>
<g id="hauskreis-e"><rect class="t" x="295.5" y="550.5" width="5" height="5"/><text class="l" x="305" y="560" textLength="125">Hauskreis E</text></g>
<g id="abendkreis-frauen"><rect class="h" x="444.5" y="559.5" width="13" height="13"/><text class="l" x="328" y="590" textLength="116">Abendkreis</text><text class="l" x="375" y="615" textLength="71">Frauen</text></g>
<g id="frauenstunde"><rect class="t" x="610" y="573" width="4" height="4"/><text class="l" x="611" y="569" textLength="143">Frauenstunde</text></g>
<g id="unbenannt"><rect class="t" x="664" y="705" width="4" height="4"/></g>
</g>
<g id="legend">
<rect x="932" y="732" width="677" height="129" fill="#fff" stroke="#a5a5a5" stroke-width="1.5"/>
<circle cx="962" cy="764" r="9" fill="#4472c4" stroke="#2f528f" stroke-width="1.5"/>
<text class="g" x="990" y="773" textLength="471">keine/geringe Verbundenheit mit KG</text>
<circle cx="962" cy="801" r="9" fill="#c00000" stroke="#2f528f" stroke-width="2"/>
<text class="g" x="990" y="810" textLength="386">höhere Verbundenheit mit KG</text>
<rect x="951" y="827" width="22" height="22" fill="#ffd966" stroke="#2f528f" stroke-width="2"/>
<text class="g" x="990" y="848" textLength="283">Institutionen (Knoten)</text>
</g>
</svg>
